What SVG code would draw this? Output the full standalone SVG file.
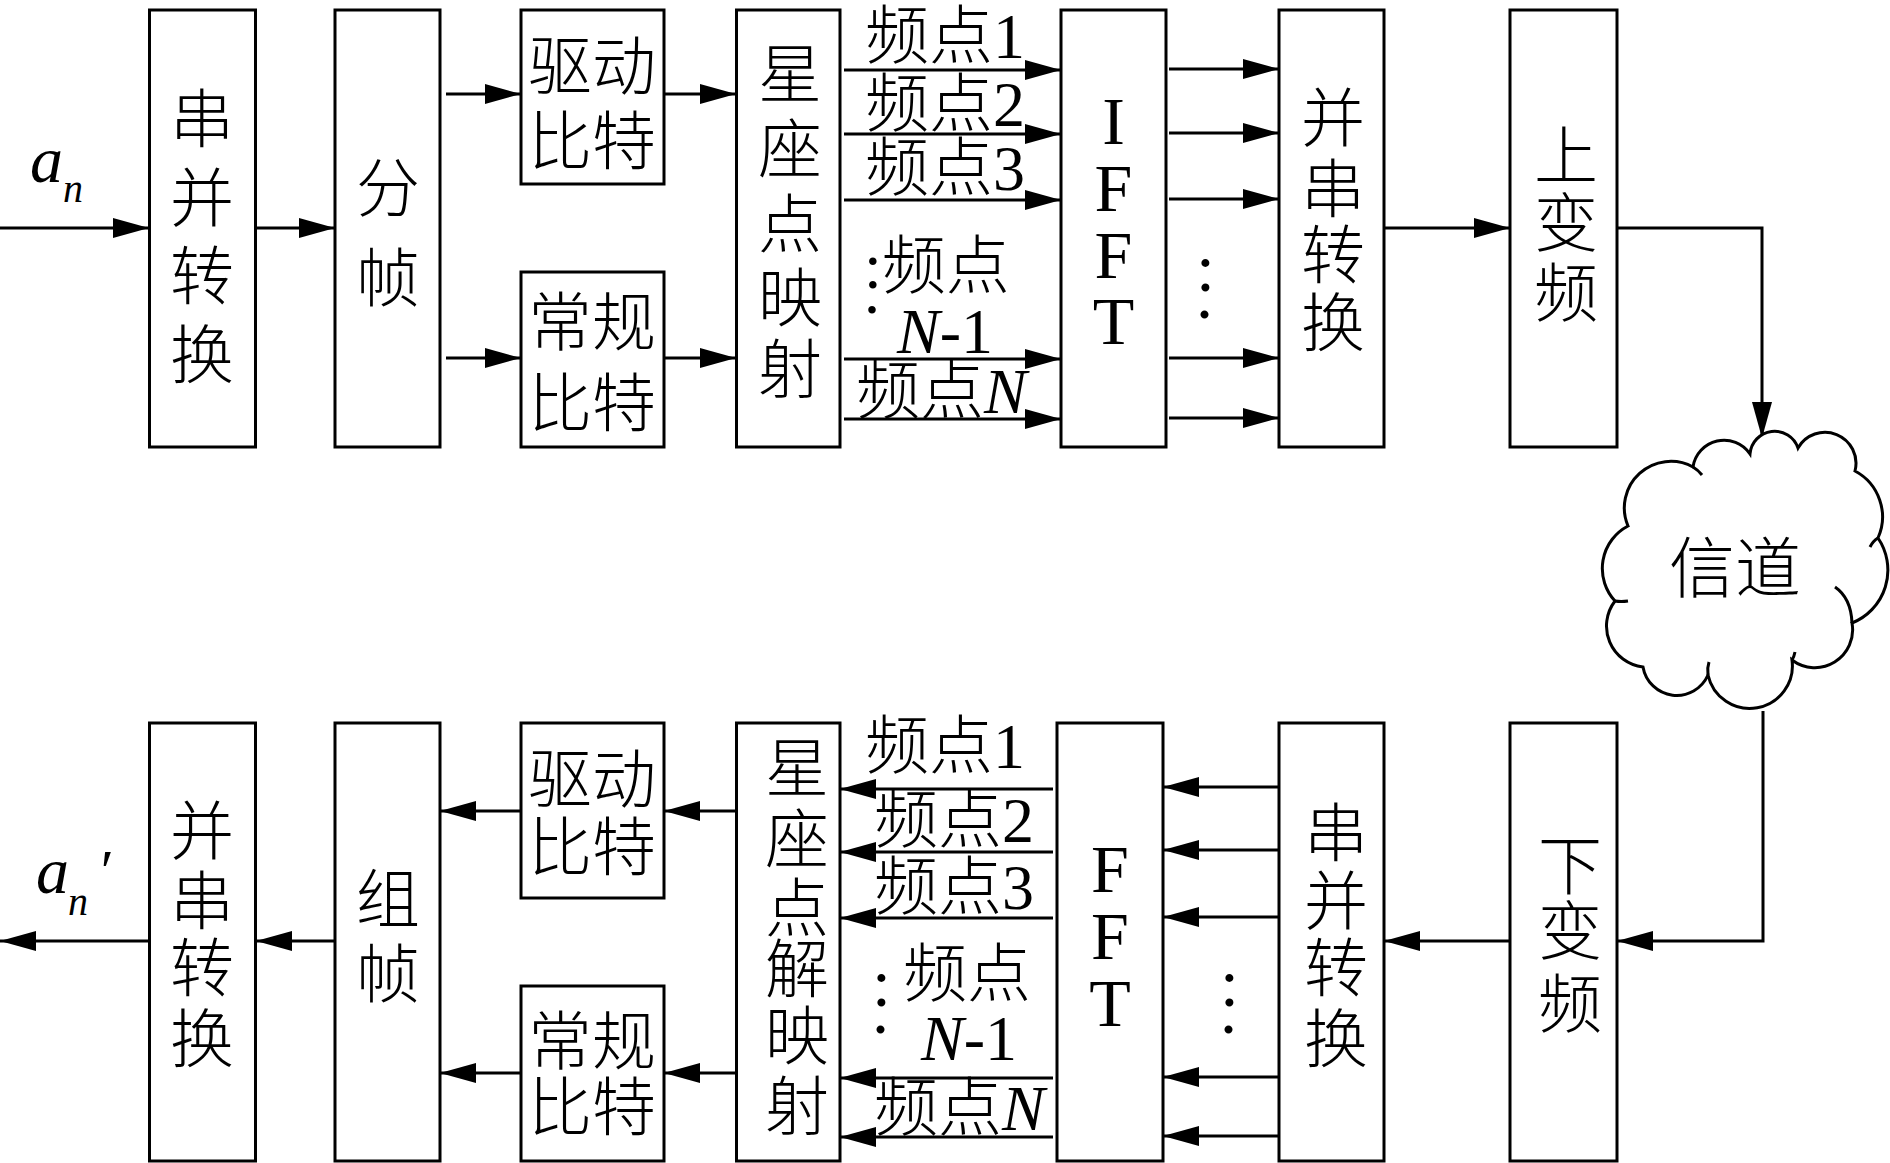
<svg xmlns="http://www.w3.org/2000/svg" width="1890" height="1163" viewBox="0 0 1890 1163">
<defs>
<marker id="ah" viewBox="0 0 36 20" markerWidth="36" markerHeight="20" refX="36" refY="10" orient="auto" markerUnits="userSpaceOnUse">
<path d="M0,0 L36,10 L0,20 z" fill="#000"/>
</marker>
</defs>
<style>
.box{fill:#fff;stroke:#000;stroke-width:3}
.ln{fill:none;stroke:#000;stroke-width:3;marker-end:url(#ah)}
.pl{fill:none;stroke:#000;stroke-width:3}
.cn{font-family:"Noto Sans CJK SC","Noto Sans CJK TC",sans-serif;font-size:64px;font-weight:300;text-anchor:middle;fill:#000}
.lb{font-family:"Liberation Serif","Noto Sans CJK SC",serif;font-size:64px;font-weight:300;fill:#000}
.lt{font-family:"Liberation Serif",serif;font-size:68px;text-anchor:middle;fill:#000}
.it{font-style:italic}
.dt{font-family:"Liberation Serif",serif;font-size:68px;fill:#000}
</style>
<rect width="1890" height="1163" fill="#fff"/>

<g id="connectors">
<line class="ln" x1="0" y1="228" x2="149" y2="228"/>
<line class="ln" x1="256" y1="228" x2="335" y2="228"/>
<line class="ln" x1="446" y1="94" x2="521" y2="94"/>
<line class="ln" x1="446" y1="358" x2="521" y2="358"/>
<line class="ln" x1="664" y1="94" x2="736" y2="94"/>
<line class="ln" x1="664" y1="358" x2="736" y2="358"/>
<line class="ln" x1="844" y1="70" x2="1061" y2="70"/>
<line class="ln" x1="844" y1="134" x2="1061" y2="134"/>
<line class="ln" x1="844" y1="200" x2="1061" y2="200"/>
<line class="ln" x1="844" y1="359" x2="1061" y2="359"/>
<line class="ln" x1="844" y1="419" x2="1061" y2="419"/>
<line class="ln" x1="1169" y1="69" x2="1279" y2="69"/>
<line class="ln" x1="1169" y1="133" x2="1279" y2="133"/>
<line class="ln" x1="1169" y1="199" x2="1279" y2="199"/>
<line class="ln" x1="1169" y1="358" x2="1279" y2="358"/>
<line class="ln" x1="1169" y1="418" x2="1279" y2="418"/>
<line class="ln" x1="1384" y1="228" x2="1510" y2="228"/>
<polyline class="ln" points="1617,228 1762,228 1762,438"/>
<polyline class="ln" points="1763,711 1763,941 1617,941"/>
<line class="ln" x1="1510" y1="941" x2="1384" y2="941"/>
<line class="ln" x1="1279" y1="787" x2="1163" y2="787"/>
<line class="ln" x1="1279" y1="850" x2="1163" y2="850"/>
<line class="ln" x1="1279" y1="917" x2="1163" y2="917"/>
<line class="ln" x1="1279" y1="1077" x2="1163" y2="1077"/>
<line class="ln" x1="1279" y1="1136" x2="1163" y2="1136"/>
<line class="ln" x1="1053" y1="789" x2="840" y2="789"/>
<line class="ln" x1="1053" y1="852" x2="840" y2="852"/>
<line class="ln" x1="1053" y1="918" x2="840" y2="918"/>
<line class="ln" x1="1053" y1="1078" x2="840" y2="1078"/>
<line class="ln" x1="1053" y1="1137" x2="840" y2="1137"/>
<line class="ln" x1="736" y1="811" x2="664" y2="811"/>
<line class="ln" x1="736" y1="1073" x2="664" y2="1073"/>
<line class="ln" x1="521" y1="811" x2="440" y2="811"/>
<line class="ln" x1="521" y1="1073" x2="440" y2="1073"/>
<line class="ln" x1="335" y1="941" x2="256" y2="941"/>
<line class="ln" x1="149" y1="941" x2="0" y2="941"/>
</g>

<g id="label-an">
<text class="lb it" x="30" y="182" style="font-size:66px">a</text>
<text class="lb it" x="63" y="202" style="font-size:40px">n</text>
</g>
<g id="label-an2">
<text class="lb it" x="36" y="893" style="font-size:66px">a</text>
<text class="lb it" x="68" y="915" style="font-size:40px">n</text>
<text class="lb it" x="97" y="891" style="font-size:60px">′</text>
</g>

<g id="sp1">
<rect class="box" x="149.5" y="10" width="106" height="437"/>
<text class="cn"><tspan x="202" y="142">串</tspan><tspan x="202" y="221">并</tspan><tspan x="202" y="299">转</tspan><tspan x="202" y="378">换</tspan></text>
</g>
<g id="framing">
<rect class="box" x="335" y="10" width="105" height="437"/>
<text class="cn"><tspan x="388" y="211">分</tspan><tspan x="388" y="301">帧</tspan></text>
</g>
<g id="drive1">
<rect class="box" x="521" y="10" width="143" height="174"/>
<text class="cn"><tspan x="592" y="89">驱动</tspan><tspan x="592" y="164">比特</tspan></text>
</g>
<g id="normal1">
<rect class="box" x="521" y="272" width="143" height="175"/>
<text class="cn"><tspan x="592" y="345">常规</tspan><tspan x="592" y="426">比特</tspan></text>
</g>
<g id="map1">
<rect class="box" x="736.5" y="10" width="103.5" height="437"/>
<text class="cn"><tspan x="790" y="97">星</tspan><tspan x="790" y="172">座</tspan><tspan x="790" y="247">点</tspan><tspan x="790" y="321">映</tspan><tspan x="790" y="392">射</tspan></text>
</g>
<g id="sublabels1">
<text class="lb" x="865" y="58">频点1</text>
<text class="lb" x="865" y="126">频点2</text>
<text class="lb" x="865" y="190">频点3</text>
<text class="lb" x="864" y="288">:频点</text>
<text class="lb" x="864" y="313">.</text>
<text class="lb" x="897" y="353"><tspan class="it">N</tspan>-1</text>
<text class="lb" x="856" y="413">频点<tspan class="it">N</tspan></text>
</g>
<g id="ifft">
<rect class="box" x="1061" y="10" width="105" height="437"/>
<text class="lt"><tspan x="1113.5" y="144">I</tspan><tspan x="1113.5" y="211">F</tspan><tspan x="1113.5" y="278">F</tspan><tspan x="1113.5" y="344">T</tspan></text>
</g>
<g id="dots1">
<text class="dt" x="1196" y="291">:</text>
<text class="dt" x="1196" y="318">.</text>
</g>
<g id="ps1">
<rect class="box" x="1279" y="10" width="105" height="437"/>
<text class="cn"><tspan x="1333" y="141">并</tspan><tspan x="1333" y="212">串</tspan><tspan x="1333" y="278">转</tspan><tspan x="1333" y="346">换</tspan></text>
</g>
<g id="upconv">
<rect class="box" x="1510" y="10" width="107" height="437"/>
<text class="cn"><tspan x="1566" y="179">上</tspan><tspan x="1566" y="246">变</tspan><tspan x="1566" y="316">频</tspan></text>
</g>

<g id="channel">
<path class="box" d="M1750,454 A24.7,24.7 0 0 1 1798,448 A31,31 0 0 1 1855,471 A52,52 0 0 1 1878,538 A57,57 0 0 1 1852,623 A37.8,37.8 0 0 1 1792,660 A42.7,42.7 0 0 1 1708,675 A34.2,34.2 0 0 1 1643,667 A41.2,41.2 0 0 1 1615,601 A48,48 0 0 1 1628,526 A46.5,46.5 0 0 1 1693,467 A31.4,31.4 0 0 1 1750,454 Z"/>
<path class="pl" d="M1693,467 Q1698,470 1702,475"/>
<path class="pl" d="M1878,538 Q1873,541 1870,547"/>
<path class="pl" d="M1835,587 Q1851,598 1852,623"/>
<path class="pl" d="M1795,652 Q1794,657 1792,660"/>
<path class="pl" d="M1708,675 Q1707,668 1709,662"/>
<path class="pl" d="M1615,601 Q1621,602 1628,601"/>
<text class="cn" x="1735" y="592" style="font-size:66px">信道</text>
</g>

<g id="downconv">
<rect class="box" x="1510" y="723" width="107" height="438"/>
<text class="cn"><tspan x="1570" y="889">下</tspan><tspan x="1570" y="954">变</tspan><tspan x="1570" y="1027">频</tspan></text>
</g>
<g id="sp2">
<rect class="box" x="1279" y="723" width="105" height="438"/>
<text class="cn"><tspan x="1336" y="856">串</tspan><tspan x="1336" y="924">并</tspan><tspan x="1336" y="991">转</tspan><tspan x="1336" y="1062">换</tspan></text>
</g>
<g id="dots2">
<text class="dt" x="1220" y="1006">:</text>
<text class="dt" x="1220" y="1033">.</text>
</g>
<g id="fft">
<rect class="box" x="1057" y="723" width="106" height="438"/>
<text class="lt"><tspan x="1110" y="892">F</tspan><tspan x="1110" y="959">F</tspan><tspan x="1110" y="1026">T</tspan></text>
</g>
<g id="sublabels2">
<text class="lb" x="865" y="768">频点1</text>
<text class="lb" x="874" y="842">频点2</text>
<text class="lb" x="874" y="909">频点3</text>
<text class="lb" x="903" y="996">频点</text>
<text class="dt" x="872" y="1006">:</text>
<text class="dt" x="872" y="1033">.</text>
<text class="lb" x="921" y="1060"><tspan class="it">N</tspan>-1</text>
<text class="lb" x="874" y="1130">频点<tspan class="it">N</tspan></text>
</g>
<g id="demap">
<rect class="box" x="736.5" y="723" width="103.5" height="438"/>
<text class="cn"><tspan x="797" y="791">星</tspan><tspan x="797" y="862">座</tspan><tspan x="797" y="931">点</tspan><tspan x="797" y="992">解</tspan><tspan x="797" y="1059">映</tspan><tspan x="797" y="1129">射</tspan></text>
</g>
<g id="drive2">
<rect class="box" x="521" y="723" width="143" height="175"/>
<text class="cn"><tspan x="592" y="802">驱动</tspan><tspan x="592" y="870">比特</tspan></text>
</g>
<g id="normal2">
<rect class="box" x="521" y="986" width="143" height="175"/>
<text class="cn"><tspan x="592" y="1064">常规</tspan><tspan x="592" y="1130">比特</tspan></text>
</g>
<g id="deframing">
<rect class="box" x="335" y="723" width="105" height="438"/>
<text class="cn"><tspan x="388" y="922">组</tspan><tspan x="388" y="997">帧</tspan></text>
</g>
<g id="ps2">
<rect class="box" x="149.5" y="723" width="106" height="438"/>
<text class="cn"><tspan x="202" y="854">并</tspan><tspan x="202" y="924">串</tspan><tspan x="202" y="991">转</tspan><tspan x="202" y="1062">换</tspan></text>
</g>
</svg>
